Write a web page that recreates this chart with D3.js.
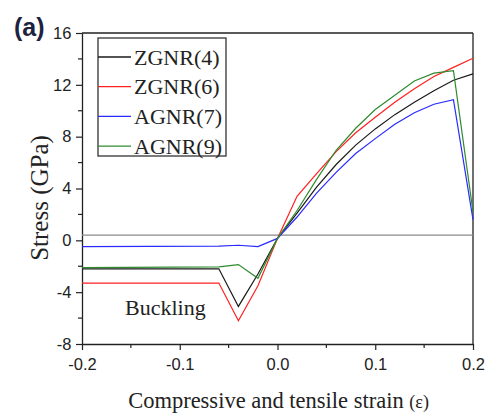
<!DOCTYPE html>
<html>
<head>
<meta charset="utf-8">
<script src="https://cdn.jsdelivr.net/npm/d3@7"></script>
<style>
  body { margin: 0; background: #fff; }
  svg { display: block; }
</style>
</head>
<body>
<div class="chart"></div>
<script>
// strain points (shared by every series)
var strain = [-0.2, -0.06, -0.04, -0.02, 0.0, 0.02, 0.04, 0.06, 0.08, 0.10, 0.12, 0.14, 0.16, 0.18, 0.20];

// stress (GPa)
var zgnr4 = [-2.2, -2.2, -5.1, -2.6, 0.15, 2.1, 4.1, 5.85, 7.35, 8.6, 9.7, 10.65, 11.55, 12.35, 12.85];
var zgnr6 = [-3.3, -3.3, -6.2, -3.5, 0.15, 3.4, 5.15, 6.85, 8.3, 9.5, 10.65, 11.7, 12.65, 13.35, 14.05];
var agnr7 = [-0.48, -0.45, -0.38, -0.48, 0.15, 1.8, 3.65, 5.25, 6.7, 7.85, 8.95, 9.85, 10.5, 10.85, 1.6];
var agnr9 = [-2.1, -2.05, -1.87, -2.93, 0.15, 2.3, 4.7, 6.95, 8.65, 10.1, 11.2, 12.3, 12.9, 13.1, 2.2];

var seriesNames = ["ZGNR(4)", "ZGNR(6)", "AGNR(7)", "AGNR(9)"];
var seriesColors = ["#1a1a1a", "#ff2020", "#2a2aff", "#2e8b2e"];
var seriesValues = [zgnr4, zgnr6, agnr7, agnr9];

var xTicks = [-0.2, -0.1, 0.0, 0.1, 0.2];
var xMinor = [-0.15, -0.05, 0.05, 0.15];
var yTicks = [-8, -4, 0, 4, 8, 12, 16];
var yMinor = [-6, -2, 2, 6, 10, 14];
var refLine = 0.4; // the grey horizontal line

var svgWidth = 489, svgHeight = 414;
var margin = { top: 33, right: 16, bottom: 70, left: 82 };
var width = svgWidth - margin.left - margin.right;
var height = svgHeight - margin.top - margin.bottom;

var svg = d3.select(".chart").append("svg")
  .attr("width", svgWidth)
  .attr("height", svgHeight);

var chartGroup = svg.append("g")
  .attr("transform", `translate(${margin.left}, ${margin.top})`);

var x = d3.scaleLinear().domain([-0.2, 0.2]).range([0, width]);
var y = d3.scaleLinear().domain([-8, 16]).range([height, 0]);

var sans = "'Liberation Sans', Arial, sans-serif";
var serif = "'Liberation Serif', 'Times New Roman', serif";

// plain hyphen instead of d3's unicode minus
var fmtX = d => d3.format(".1f")(d).replace("\u2212", "-");
var fmtY = d => d3.format("d")(d).replace("\u2212", "-");

// frame (top + right)
chartGroup.append("line").attr("x1", 0).attr("x2", width).attr("y1", 0).attr("y2", 0)
  .attr("stroke", "#222").attr("stroke-width", 1.3);
chartGroup.append("line").attr("x1", width).attr("x2", width).attr("y1", 0).attr("y2", height)
  .attr("stroke", "#222").attr("stroke-width", 1.3);

// axes
var xAxis = d3.axisBottom(x).tickValues(xTicks).tickFormat(fmtX).tickSize(6).tickSizeOuter(0);
var yAxis = d3.axisLeft(y).tickValues(yTicks).tickFormat(fmtY).tickSize(6).tickSizeOuter(0);

var gx = chartGroup.append("g").attr("transform", `translate(0, ${height})`).call(xAxis);
var gy = chartGroup.append("g").call(yAxis);

[gx, gy].forEach(function(g) {
  g.select(".domain").attr("stroke", "#222").attr("stroke-width", 1.3);
  g.selectAll(".tick line").attr("stroke", "#222").attr("stroke-width", 1.2);
  g.selectAll("text").attr("font-family", sans).attr("font-size", 16.5).attr("fill", "#222");
});
gx.selectAll("text").attr("dy", "1.0em");
gy.selectAll("text").attr("dx", "-0.1em");

// minor ticks
chartGroup.selectAll(".xminor").data(xMinor).enter().append("line")
  .attr("x1", d => x(d)).attr("x2", d => x(d))
  .attr("y1", height).attr("y2", height + 4)
  .attr("stroke", "#222").attr("stroke-width", 1.2);
chartGroup.selectAll(".yminor").data(yMinor).enter().append("line")
  .attr("y1", d => y(d)).attr("y2", d => y(d))
  .attr("x1", 0).attr("x2", -4)
  .attr("stroke", "#222").attr("stroke-width", 1.2);

// grey reference line
chartGroup.append("line")
  .attr("x1", 0).attr("x2", width)
  .attr("y1", y(refLine)).attr("y2", y(refLine))
  .attr("stroke", "#8a8a8a").attr("stroke-width", 1.3);

// series lines
var line = d3.line()
  .x((d, i) => x(strain[i]))
  .y(d => y(d));

seriesValues.forEach(function(vals, k) {
  chartGroup.append("path")
    .datum(vals)
    .attr("d", line)
    .attr("fill", "none")
    .attr("stroke", seriesColors[k])
    .attr("stroke-width", 1.2);
});

// legend
var legend = chartGroup.append("g").attr("transform", "translate(16, 5)");
legend.append("rect")
  .attr("x", 0).attr("y", 0).attr("width", 128).attr("height", 118)
  .attr("fill", "#fff").attr("stroke", "#333").attr("stroke-width", 1.3);
seriesNames.forEach(function(name, k) {
  var ly = 19 + k * 29.7;
  legend.append("line")
    .attr("x1", 0).attr("x2", 33).attr("y1", ly).attr("y2", ly)
    .attr("stroke", seriesColors[k]).attr("stroke-width", 1.3);
  legend.append("text")
    .attr("x", 36).attr("y", ly + 7.5)
    .attr("font-family", serif).attr("font-size", 22).attr("fill", "#222")
    .text(name);
});

// Buckling annotation
chartGroup.append("text")
  .attr("x", x(-0.156)).attr("y", y(-5.8))
  .attr("font-family", serif).attr("font-size", 22).attr("fill", "#222")
  .text("Buckling");

// axis titles
var xt = svg.append("text")
  .attr("x", margin.left + width / 2 + 1).attr("y", 408)
  .attr("text-anchor", "middle")
  .attr("font-family", serif).attr("font-size", 22.5).attr("fill", "#222");
xt.append("tspan").text("Compressive and tensile strain ");
xt.append("tspan").attr("font-size", 18).text("(ε)");

svg.append("text")
  .attr("transform", "translate(48, 198) rotate(-90)")
  .attr("text-anchor", "middle")
  .attr("font-family", serif).attr("font-size", 25).attr("fill", "#222")
  .text("Stress (GPa)");

// panel label
svg.append("text")
  .attr("x", 14).attr("y", 36)
  .attr("font-family", sans).attr("font-size", 25).attr("font-weight", "bold")
  .attr("fill", "#1c2340")
  .text("(a)");
</script>
</body>
</html>
